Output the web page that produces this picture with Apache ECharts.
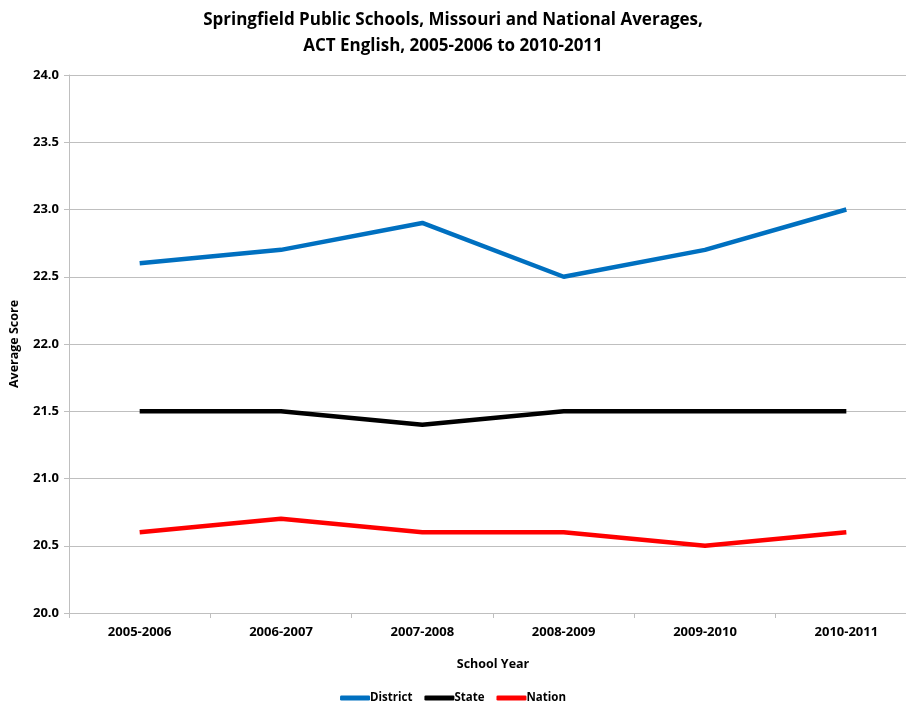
<!DOCTYPE html>
<html><head><meta charset="utf-8">
<script src="https://cdn.jsdelivr.net/npm/echarts@6/dist/echarts.min.js"></script>
<style>html,body{margin:0;padding:0;background:#fff}#c{width:906px;height:707px}</style>
</head><body><div id="c"></div>
<script>
const categories = ['2005-2006','2006-2007','2007-2008','2008-2009','2009-2010','2010-2011'];
const district = [22.6, 22.7, 22.9, 22.5, 22.7, 23.0];
const state = [21.5, 21.5, 21.4, 21.5, 21.5, 21.5];
const nation = [20.6, 20.7, 20.6, 20.6, 20.5, 20.6];
const FONT = '"Open Sans", sans-serif';
const chart = echarts.init(document.getElementById('c'), null, {renderer:'canvas'});
const mk = (name, data, color) => ({name, type:'line', data, symbol:'none', smooth:false,
  lineStyle:{color, width:4.5}, itemStyle:{color}, animation:false});
chart.setOption({
  animation:false,
  textStyle:{fontFamily:FONT},
  title:{text:'Springfield Public Schools, Missouri and National Averages,\nACT English, 2005-2006 to 2010-2011',
    left:'center', top:2, textStyle:{fontFamily:FONT, fontWeight:'bold', fontSize:17, lineHeight:26, color:'#000'}},
  legend:{bottom:-2, left:'center', itemWidth:30, itemHeight:5, itemGap:12, icon:'roundRect',
    textStyle:{fontFamily:FONT, fontWeight:'bold', fontSize:11.5, color:'#000', padding:[0,0,0,-5]},
    data:['District','State','Nation']},
  grid:{left:69, top:75, width:848, height:538, containLabel:false, outerBoundsMode:'none'},
  xAxis:{type:'category', data:categories, boundaryGap:true,
    name:'School Year', nameLocation:'middle', nameGap:45,
    nameTextStyle:{fontFamily:FONT, fontWeight:'bold', fontSize:12.5, color:'#000'},
    axisLine:{lineStyle:{color:'#BFBFBF', width:1}},
    axisTick:{show:true, length:5, lineStyle:{color:'#BFBFBF'}},
    axisLabel:{fontFamily:FONT, fontWeight:'bold', fontSize:13, color:'#000', margin:13}},
  yAxis:{type:'value', min:20, max:24, interval:0.5,
    name:'Average Score', nameLocation:'middle', nameGap:48, nameRotate:90,
    nameTextStyle:{fontFamily:FONT, fontWeight:'bold', fontSize:12.5, color:'#000'},
    axisLine:{show:true, lineStyle:{color:'#BFBFBF', width:1}},
    axisTick:{show:true, length:5, lineStyle:{color:'#BFBFBF'}},
    splitLine:{lineStyle:{color:'#BFBFBF', width:1}},
    axisLabel:{fontFamily:FONT, fontWeight:'bold', fontSize:13, color:'#000', margin:10,
      formatter:v=>v.toFixed(1)}},
  series:[mk('District', district, '#0070C0'), mk('State', state, '#000000'), mk('Nation', nation, '#FF0000')]
});
</script></body></html>
